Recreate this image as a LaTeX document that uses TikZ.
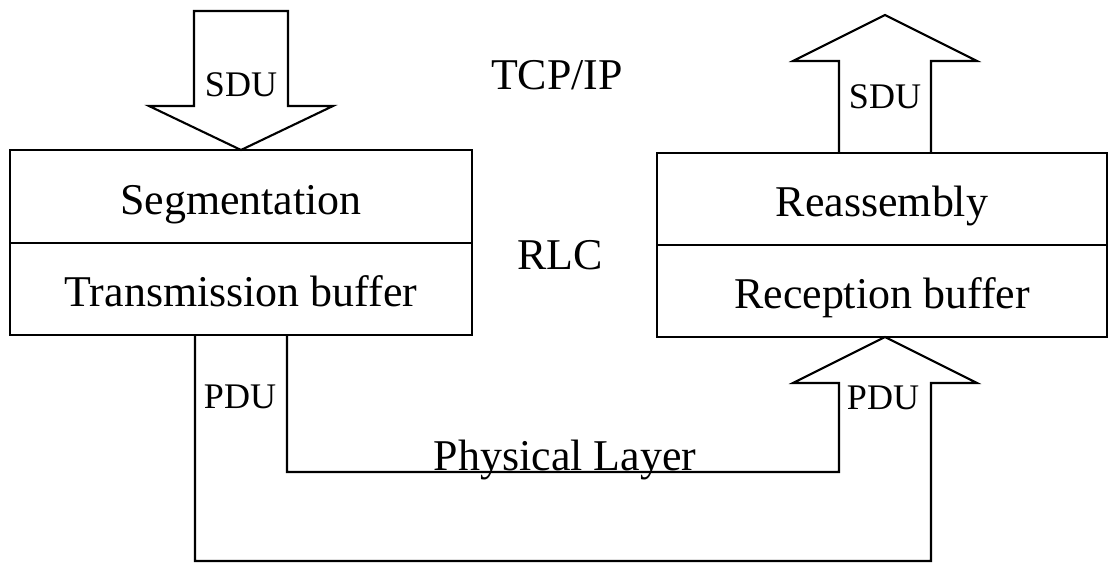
\documentclass[tikz,border=0pt]{standalone}
\usepackage{fontspec}
\setmainfont{Liberation Serif}
\usepackage{tikz}
\usetikzlibrary{positioning}

\begin{document}
\begin{tikzpicture}[x=0.02cm, y=-0.02cm, line width=1.2pt,
    box/.style={draw, rectangle, inner sep=0pt, outer sep=0pt, text height=0.72cm, text depth=0pt, font=\fontsize{25}{30}\selectfont},
    big/.style={inner sep=0pt, font=\fontsize{25}{30}\selectfont},
    small/.style={inner sep=0pt, font=\fontsize{20.5}{24}\selectfont}]
      \useasboundingbox (0,0) rectangle (1109,563);

      % Lato trasmissione
      \node (seg) at (241,196.5) [box, minimum width=9.24cm, minimum height=1.86cm] {Segmentation};
      \node (txbuf) [box, below=0pt of seg, minimum width=9.24cm, minimum height=1.84cm] {Transmission buffer};

      % Lato ricezione
      \node (reas) at (882,199) [box, minimum width=9cm, minimum height=1.84cm] {Reassembly};
      \node (rxbuf) [box, below=0pt of reas, minimum width=9cm, minimum height=1.84cm] {Reception buffer};

      % Frecce SDU
      \draw (194,11) -- (194,106) -- (149,106) -- (seg.north) -- (333,106) -- (288,106) -- (288,11) -- cycle;
      \draw (839,153) -- (839,61) -- (793,61) -- (885,15) -- (977,61) -- (931,61) -- (931,153);

      % Canale PDU
      \draw (195,335) -- (195,561) -- (931,561) -- (931,383) -- (977,383) -- (885,337)
        -- (793,383) -- (839,383) -- (839,472) -- (287,472) -- (287,335);

      % Etichette
      \node (sdutx) at (241,85) [small] {SDU};
      \node (sdurx) at (885,97) [small] {SDU};
      \node (pdutx) at (240,397) [small] {PDU};
      \node (pdurx) at (883,398) [small] {PDU};
      \node (tcp) at (557,75) [big] {TCP/IP};
      \node (rlc) at (560,255) [big] {RLC};
      \node (phy) at (565,471) [big, anchor=base] {Physical Layer};
    \end{tikzpicture}
\end{document}
